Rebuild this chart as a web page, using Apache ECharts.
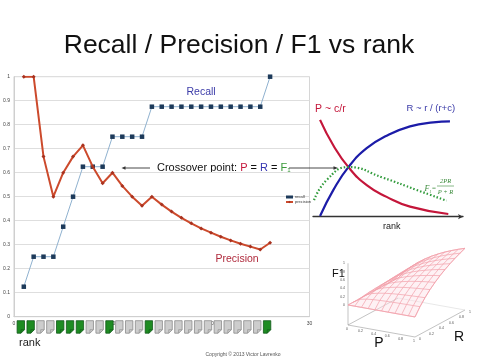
<!DOCTYPE html>
<html><head><meta charset="utf-8">
<script src="https://cdn.jsdelivr.net/npm/echarts@6/dist/echarts.min.js"></script>
<style>html,body{margin:0;padding:0;background:#fff}#c{width:480px;height:360px}</style>
</head><body><div id="c"></div>
<script>
// ---------- data ----------
const ranks = [1,2,3,4,5,6,7,8,9,10,11,12,13,14,15,16,17,18,19,20,21,22,23,24,25,26];
const recall = [0.125,0.25,0.25,0.25,0.375,0.5,0.625,0.625,0.625,0.75,0.75,0.75,0.75,0.875,0.875,0.875,0.875,0.875,0.875,0.875,0.875,0.875,0.875,0.875,0.875,1];
const precision = [1,1,0.667,0.5,0.6,0.667,0.714,0.625,0.556,0.6,0.545,0.5,0.462,0.5,0.467,0.438,0.412,0.389,0.368,0.35,0.333,0.318,0.304,0.292,0.28,0.308];
const relevant = [1,1,0,0,1,1,1,0,0,1,0,0,0,1,0,0,0,0,0,0,0,0,0,0,0,1];
const xTicks = ['0','10','20','30'];

// conceptual curves (right diagram): [rank, value]
const curveP = [[0.47,0.83],[1.36,0.61],[2.36,0.425],[3.58,0.27],[4.91,0.17],[6.47,0.086],[9.02,0.023]];
const curveR = [[0.47,0.006],[1.36,0.23],[2.36,0.425],[3.58,0.588],[4.91,0.694],[6.47,0.774],[8.02,0.808],[9.13,0.816]];
const curveF = [[0.07,0.143],[0.91,0.314],[2.36,0.425],[4.69,0.333],[6.91,0.229],[8.91,0.137]];

// F1 surface samples: rows = P (0..1 step .1), cols = R (0..1 step .1)
const gridSteps = [0,0.1,0.2,0.3,0.4,0.5,0.6,0.7,0.8,0.9,1];
const f1Grid = [
 [0,0,0,0,0,0,0,0,0,0,0],
 [0,0.1,0.133,0.15,0.16,0.167,0.171,0.175,0.178,0.18,0.182],
 [0,0.133,0.2,0.24,0.267,0.286,0.3,0.311,0.32,0.327,0.333],
 [0,0.15,0.24,0.3,0.343,0.375,0.4,0.42,0.436,0.45,0.462],
 [0,0.16,0.267,0.343,0.4,0.444,0.48,0.509,0.533,0.554,0.571],
 [0,0.167,0.286,0.375,0.444,0.5,0.545,0.583,0.615,0.643,0.667],
 [0,0.171,0.3,0.4,0.48,0.545,0.6,0.646,0.686,0.72,0.75],
 [0,0.175,0.311,0.42,0.509,0.583,0.646,0.7,0.747,0.788,0.824],
 [0,0.178,0.32,0.436,0.533,0.615,0.686,0.747,0.8,0.847,0.889],
 [0,0.18,0.327,0.45,0.554,0.643,0.72,0.788,0.847,0.9,0.947],
 [0,0.182,0.333,0.462,0.571,0.667,0.75,0.824,0.889,0.947,1]
];
const axis3Ticks = ['0','0.2','0.4','0.6','0.8','1'];

// ---------- layout / style ----------
const FONT = 'Liberation Sans, Arial, Helvetica, sans-serif';
const P3 = {ox:18, oy:90, px:67, py:12, rx:50, ry:-27, fz:41.7, zmin:-0.48};
function proj(p, r, f){
  return [P3.ox + p*P3.px + r*P3.rx, P3.oy + p*P3.py + r*P3.ry - (f - P3.zmin)*P3.fz];
}

const chart = echarts.init(document.getElementById('c'), null, {renderer:'canvas'});

function iconItem(params, api){
  const c = api.coord([api.value(0), 0]);
  const cx = c[0]-3, top = c[1]+4, w = 7.4, h = 12.5, k = 3.5;
  const rel = api.value(1) === 1;
  const fill = rel ? '#1e8c22' : '#cdcdcd';
  const stroke = rel ? '#11581a' : '#8a8a8a';
  const l = cx-w/2, r = cx+w/2;
  return {type:'group', children:[
    {type:'polygon', shape:{points:[[l,top],[r,top],[r,top+h-k],[r-k,top+h],[l,top+h]]}, style:{fill, stroke, lineWidth:0.8}},
    {type:'polyline', shape:{points:[[r,top+h-k],[r-k,top+h-k],[r-k,top+h]]}, style:{fill:'none', stroke, lineWidth:0.6}}
  ]};
}

function surfItem(params, api){
  const kind = api.value(0), idx = api.value(1);
  const C = (p,r,f) => api.coord(proj(p,r,f));
  const n = gridSteps.length;
  if (kind === 0) { // box / axes
    const ch = [];
    const A = C(0,0,P3.zmin), B = C(1,0,P3.zmin), Cc = C(1,1,P3.zmin), D = C(0,1,P3.zmin);
    const lineStyle = {stroke:'#9a9a9a', lineWidth:0.6, fill:'none'};
    ch.push({type:'polyline', shape:{points:[D,A,B,Cc]}, style:lineStyle});
    ch.push({type:'polyline', shape:{points:[D,Cc]}, style:{stroke:'#d0d0d0', lineWidth:0.5, fill:'none'}});
    const Atop = C(0,0,1);
    ch.push({type:'line', shape:{x1:A[0],y1:A[1],x2:Atop[0],y2:Atop[1]}, style:lineStyle});
    axis3Ticks.forEach((t,i)=>{
      const v = i/5;
      const pp = C(v,0,P3.zmin);
      ch.push({type:'text', x:pp[0]-1, y:pp[1]+4, style:{text:t, fontSize:3.5, fill:'#555', textAlign:'center', textVerticalAlign:'middle', fontFamily:FONT}});
      const rp = C(1,v,P3.zmin);
      ch.push({type:'text', x:rp[0]+4, y:rp[1]+2, style:{text:t, fontSize:3.5, fill:'#555', textAlign:'left', textVerticalAlign:'middle', fontFamily:FONT}});
      const fp = C(0,0,v);
      ch.push({type:'text', x:fp[0]-3, y:fp[1], style:{text:t, fontSize:3.5, fill:'#555', textAlign:'right', textVerticalAlign:'middle', fontFamily:FONT}});
    });
    return {type:'group', children:ch};
  }
  if (kind === 1) { // surface fill
    const pts = [];
    for (let j=0;j<n;j++) pts.push(C(gridSteps[0], gridSteps[j], f1Grid[0][j]));
    for (let i=1;i<n;i++) pts.push(C(gridSteps[i], 1, f1Grid[i][n-1]));
    for (let j=n-2;j>=0;j--) pts.push(C(1, gridSteps[j], f1Grid[n-1][j]));
    for (let i=n-2;i>0;i--) pts.push(C(gridSteps[i], 0, f1Grid[i][0]));
    return {type:'polygon', shape:{points:pts}, style:{fill:'rgba(252,225,230,0.45)', stroke:'#f3a6b0', lineWidth:0.8}};
  }
  const pts = [];
  for (let j=0;j<n;j++){
    if (kind === 2) pts.push(C(gridSteps[idx], gridSteps[j], f1Grid[idx][j]));
    else pts.push(C(gridSteps[j], gridSteps[idx], f1Grid[j][idx]));
  }
  return {type:'polyline', shape:{points:pts}, style:{fill:'none', stroke:'#f2a0ab', lineWidth:0.7}};
}
const surfData = [[0,0],[1,0]];
for (let i=0;i<gridSteps.length;i++){ surfData.push([2,i]); surfData.push([3,i]); }

const txt = (x,y,text,opt) => Object.assign({type:'text', x, y, silent:true,
  style:Object.assign({text, fontFamily:FONT, fontSize:11, fill:'#111', textAlign:'left', textVerticalAlign:'middle'}, opt||{})});
const ln = (x1,y1,x2,y2,opt) => ({type:'line', silent:true, shape:{x1,y1,x2,y2}, style:Object.assign({stroke:'#333', lineWidth:1}, opt||{})});
const tri = (pts,color) => ({type:'polygon', silent:true, shape:{points:pts}, style:{fill:color||'#333'}});

const option = {
  animation:false,
  backgroundColor:'#fff',
  textStyle:{fontFamily:FONT},
  legend:{
    orient:'vertical', left:285, top:195, itemWidth:7, itemHeight:3, itemGap:1, padding:0,
    textStyle:{fontSize:4, color:'#333', padding:[0,0,0,-3]},
    data:[{name:'recall', icon:'rect'},{name:'precision'}]
  },
  grid:[
    {left:13.5, top:76.7, width:296, height:240, show:true, borderColor:'#d6d6d6', borderWidth:1, backgroundColor:'transparent'},
    {left:313, top:100, width:150, height:116.7},
    {left:330, top:235, width:150, height:110}
  ],
  xAxis:[
    {gridIndex:0, type:'value', min:0, max:30, interval:10,
      axisLine:{show:true, lineStyle:{color:'#cfcfcf'}}, axisTick:{show:false}, splitLine:{show:false},
      axisLabel:{fontSize:5, color:'#444', margin:4, formatter:(v)=>xTicks[Math.round(v/10)]}},
    {gridIndex:1, type:'value', min:0, max:10, axisLine:{show:true, symbol:['none','arrow'], symbolSize:[4,5], lineStyle:{color:'#333', width:1.3}},
      axisTick:{show:false}, axisLabel:{show:false}, splitLine:{show:false}},
    {gridIndex:2, type:'value', min:0, max:150, show:false}
  ],
  yAxis:[
    {gridIndex:0, type:'value', min:0, max:1, interval:0.1,
      axisLine:{show:true, lineStyle:{color:'#cfcfcf'}}, axisTick:{show:false},
      splitLine:{show:true, lineStyle:{color:'#dedede', width:1}},
      axisLabel:{fontSize:5, color:'#444', margin:4, formatter:(v)=>String(Math.round(v*10)/10)}},
    {gridIndex:1, type:'value', min:0, max:1, show:false},
    {gridIndex:2, type:'value', min:0, max:110, inverse:true, show:false}
  ],
  series:[
    {name:'recall', type:'line', xAxisIndex:0, yAxisIndex:0, data:ranks.map((r,i)=>[r,recall[i]]),
      symbol:'rect', symbolSize:4.5, itemStyle:{color:'#1d3a5a'}, lineStyle:{color:'#8fb1cf', width:1}, z:3},
    {name:'precision', type:'line', xAxisIndex:0, yAxisIndex:0, data:ranks.map((r,i)=>[r,precision[i]]),
      symbol:'diamond', symbolSize:4, itemStyle:{color:'#a8321f'}, lineStyle:{color:'#cc4a2c', width:2}, z:4},
    {name:'docs', type:'custom', xAxisIndex:0, yAxisIndex:0, data:ranks.map((r,i)=>[r,relevant[i]]),
      renderItem:iconItem, clip:false, silent:true},
    {name:'Pc', type:'line', xAxisIndex:1, yAxisIndex:1, data:curveP, smooth:0.5, showSymbol:false,
      lineStyle:{color:'#c4163a', width:2.2}},
    {name:'Rc', type:'line', xAxisIndex:1, yAxisIndex:1, data:curveR, smooth:0.5, showSymbol:false,
      lineStyle:{color:'#1c1ca8', width:2.2}},
    {name:'Fc', type:'line', xAxisIndex:1, yAxisIndex:1, data:curveF, smooth:0.5, showSymbol:false,
      lineStyle:{color:'#2f9a3a', width:2.2, type:[1.5,2]}, z:5},
    {name:'surface', type:'custom', xAxisIndex:2, yAxisIndex:2, data:surfData, renderItem:surfItem, clip:false, silent:true}
  ],
  graphic:[
    txt(239, 46, 'Recall / Precision / F1 vs rank', {fontSize:26.5, textAlign:'center', fill:'#111'}),
    txt(186.5, 92.5, 'Recall', {fontSize:10.5, fill:'#3b3ba8'}),
    txt(215.5, 259, 'Precision', {fontSize:10.5, fill:'#b02a3c'}),
    txt(19, 343, 'rank', {fontSize:11, fill:'#222'}),
    {type:'text', x:157, y:167.5, silent:true, style:{
      text:'{k|Crossover point: }{p|P}{k| = }{r|R}{k| = }{f|F}{s|1}', textVerticalAlign:'middle',
      rich:{k:{fontSize:11, fill:'#111', fontFamily:FONT}, p:{fontSize:11, fill:'#c4163a', fontFamily:FONT},
            r:{fontSize:11, fill:'#3434b0', fontFamily:FONT}, f:{fontSize:11, fill:'#3a9a3a', fontFamily:FONT},
            s:{fontSize:6, fill:'#3a9a3a', fontFamily:FONT, padding:[6,0,0,0]}}}},
    ln(150, 168, 125, 168, {lineWidth:0.9}),
    tri([[121.5,168],[125.5,166.2],[125.5,169.8]]),
    ln(289, 168, 334, 168, {lineWidth:0.9}),
    tri([[338,168],[333.5,166.2],[333.5,169.8]]),
    txt(315, 109, 'P ~ c/r', {fontSize:10.5, fill:'#c4163a'}),
    txt(406.5, 108.5, 'R ~ r / (r+c)', {fontSize:9.5, fill:'#3a3aa8'}),
    txt(383, 227, 'rank', {fontSize:9, fill:'#222'}),
    txt(424.5, 189, 'F', {fontSize:8, fill:'#3a8a3a', fontFamily:'Liberation Serif, DejaVu Serif, serif', fontStyle:'italic'}),
    txt(429.3, 191.5, '1', {fontSize:4, fill:'#3a8a3a', fontFamily:'Liberation Serif, serif', fontStyle:'italic'}),
    txt(432, 188, '=', {fontSize:7, fill:'#3a8a3a', fontFamily:'Liberation Serif, serif'}),
    txt(445.5, 181, '2PR', {fontSize:6.5, fill:'#3a8a3a', textAlign:'center', fontFamily:'Liberation Serif, serif', fontStyle:'italic'}),
    ln(437, 186, 454, 186, {stroke:'#3a8a3a', lineWidth:0.6}),
    txt(445.5, 192.5, 'P + R', {fontSize:6.5, fill:'#3a8a3a', textAlign:'center', fontFamily:'Liberation Serif, serif', fontStyle:'italic'}),
    txt(332, 274, 'F1', {fontSize:11, fill:'#111'}),
    txt(379, 343, 'P', {fontSize:14, fill:'#111', textAlign:'center'}),
    txt(459, 337, 'R', {fontSize:14, fill:'#111', textAlign:'center'}),
    txt(243, 355, 'Copyright \u00a9 2013 Victor Lavrenko', {fontSize:5, fill:'#555', textAlign:'center'})
  ]
};
chart.setOption(option);
</script></body></html>
